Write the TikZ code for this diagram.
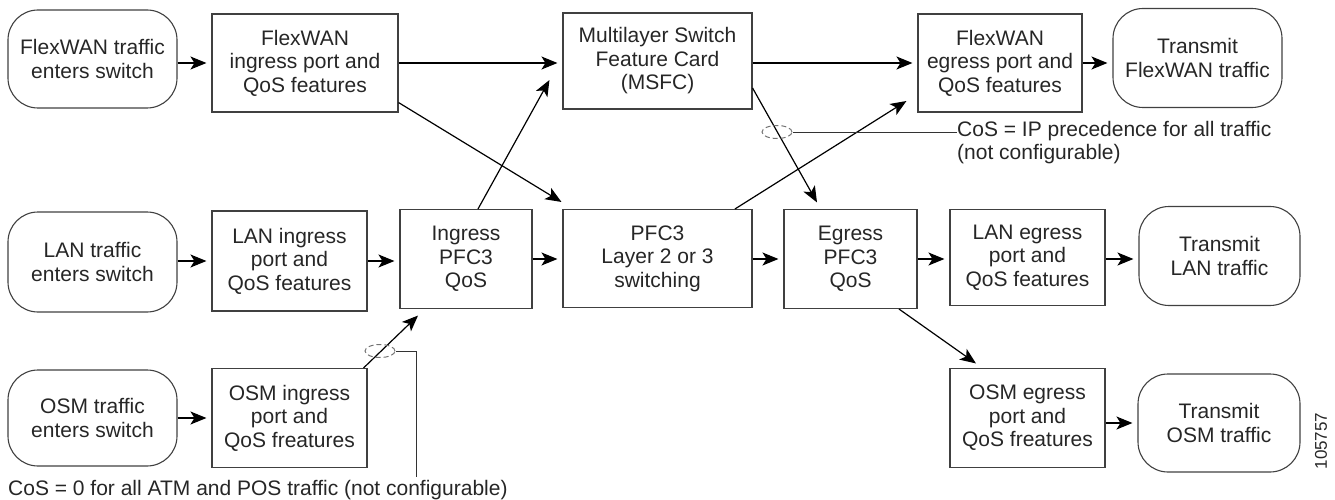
\documentclass[tikz,border=0pt]{standalone}
\usepackage{fontspec}
\setmainfont{Liberation Sans}
\usetikzlibrary{arrows.meta,shapes.geometric,calc}
\begin{document}
\begin{tikzpicture}[x=1pt,y=-1pt,
  every node/.style={font=\fontsize{21}{23.5}\selectfont, text=black!85},
  box/.style={draw=black!75, line width=1.1pt, align=center, inner sep=0pt},
  rbox/.style={box, rounded corners=30pt},
  arr/.style={draw=black, line width=1.2pt, -{Stealth[length=16pt,width=13pt,inset=4pt]}},
  harr/.style={arr, shorten >=5pt},
  dashell/.style={ellipse, draw=black!55, dash pattern=on 5pt off 3pt, line width=1pt, minimum width=30pt, minimum height=13pt, inner sep=0pt},
  note/.style={draw=black!80, line width=0.9pt}
]
\useasboundingbox (0,0) rectangle (1335,500);

% row 1
\node[rbox, minimum width=169pt, minimum height=98pt] (A1) at (92.5,59) {FlexWAN traffic\\enters switch};
\node[box, minimum width=186pt, minimum height=98pt] (B1) at (305,63) {FlexWAN\\ingress port and\\QoS features};
\node[box, minimum width=189pt, minimum height=96pt] (MSFC) at (657.5,61) {Multilayer Switch\\Feature Card\\(MSFC)};
\node[box, minimum width=164pt, minimum height=98pt] (FE) at (1000,63) {FlexWAN\\egress port and\\QoS features};
\node[rbox, minimum width=169pt, minimum height=99pt] (TF) at (1197.5,58) {Transmit\\FlexWAN traffic};

% row 2
\node[rbox, minimum width=169pt, minimum height=100pt] (A2) at (92.5,262) {LAN traffic\\enters switch};
\node[box, minimum width=155pt, minimum height=100pt] (B2) at (289.5,261) {LAN ingress\\port and\\QoS features};
\node[box, minimum width=132pt, minimum height=99pt] (ING) at (466,259) {Ingress\\PFC3\\QoS};
\node[box, minimum width=189pt, minimum height=98pt] (PFC) at (657.5,258.5) {PFC3\\Layer 2 or 3\\switching};
\node[box, minimum width=133pt, minimum height=99pt] (EGR) at (850.5,259) {Egress\\PFC3\\QoS};
\node[box, minimum width=155pt, minimum height=96pt] (LE) at (1027.5,257.5) {LAN egress\\port and\\QoS features};
\node[rbox, minimum width=161pt, minimum height=99pt] (TL) at (1219.5,256) {Transmit\\LAN traffic};

% row 3
\node[rbox, minimum width=169pt, minimum height=96pt] (A3) at (92.5,418) {OSM traffic\\enters switch};
\node[box, minimum width=155pt, minimum height=99pt] (B3) at (289.5,418) {OSM ingress\\port and\\QoS freatures};
\node[box, minimum width=155pt, minimum height=99pt] (OE) at (1027.5,418) {OSM egress\\port and\\QoS freatures};
\node[rbox, minimum width=162pt, minimum height=98pt] (TO) at (1219,423) {Transmit\\OSM traffic};

% horizontal arrows
\draw[harr] (A1.east |- B1.west) -- (B1.west);
\draw[harr] (B1.east) -- (B1.east -| MSFC.west);
\draw[harr] (MSFC.east |- FE.west) -- (FE.west);
\draw[harr] (FE.east) -- (FE.east -| TF.west);
\draw[harr] (A2.east |- B2.west) -- (B2.west);
\draw[harr] (B2.east) -- (B2.east -| ING.west);
\draw[harr] (ING.east) -- (ING.east -| PFC.west);
\draw[harr] (PFC.east |- EGR.west) -- (EGR.west);
\draw[harr] (EGR.east) -- (EGR.east -| LE.west);
\draw[harr] (LE.east |- EGR.east) -- (TL.west |- EGR.east);
\draw[harr] (A3.east) -- (A3.east -| B3.west);
\draw[harr] (OE.east |- TO.west) -- (TO.west);

% diagonal arrows
\draw[arr] ($(B1.south east)+(0,-10)$) -- ($(PFC.north west)+(-1,-7)$);
\draw[arr] ($(ING.north)+(12,0)$) -- ($(MSFC.west)+(-13,19)$);
\draw[arr] ($(MSFC.east)+(0,27)$) -- ($(EGR.north)+(-33.5,-6.5)$);
\draw[arr] ($(PFC.north)+(77.5,0)$) -- ($(FE.west)+(-11,38)$);
\draw[arr] ($(EGR.south)+(48.5,0)$) -- ($(OE.north)+(-51.5,-4.5)$);
\draw[arr] ($(B3.north east)+(-4,0)$) -- ($(ING.south)+(-48,6.5)$);

% annotations
\node[dashell] (E1) at (777,132) {};
\node[dashell] (E2) at (380,351) {};
\node[anchor=north west, align=left, inner sep=0pt] (L1) at (957,121) {CoS = IP precedence for all traffic\\(not configurable)};
\draw[note] (E1.east) -- (E1.east -| L1.west);
\node[anchor=base west, inner sep=0pt] (L2) at (8,495) {CoS = 0 for all ATM and POS traffic (not configurable)};
\coordinate (K) at (416,477);
\draw[note] (E2.east) -- (E2.east -| K) -- (K);

\node[rotate=90, font=\fontsize{17}{17}\selectfont] (ID) at (1321,441) {105757};
\end{tikzpicture}
\end{document}
